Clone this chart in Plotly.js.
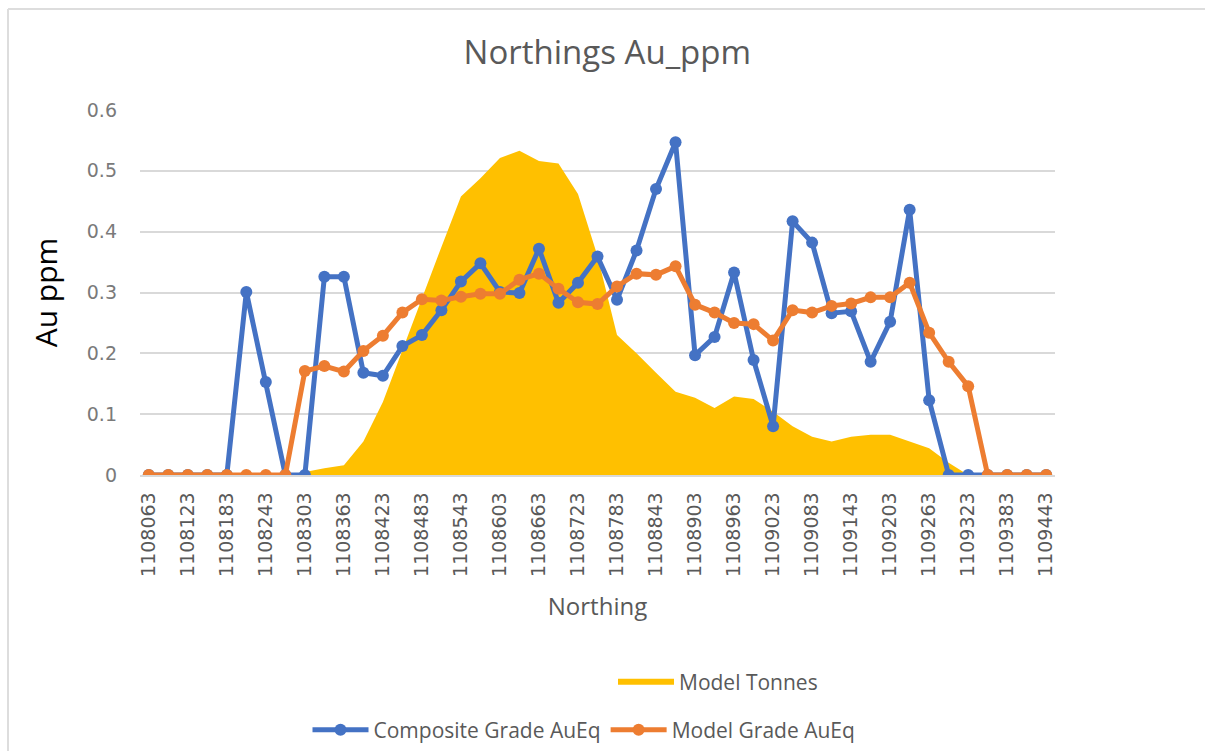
<!DOCTYPE html>
<html>
<head>
<meta charset="utf-8">
<script src="https://cdn.plot.ly/plotly-3.0.1.min.js"></script>
<style>
  html, body { margin: 0; padding: 0; background: #fff; }
  #chart { width: 1205px; height: 751px; }
</style>
</head>
<body>
<div id="chart"></div>
<script>
// northing categories (every 30 m)
const northings = [
  '1108063', '1108093', '1108123', '1108153', '1108183', '1108213', '1108243', '1108273',
  '1108303', '1108333', '1108363', '1108393', '1108423', '1108453', '1108483', '1108513',
  '1108543', '1108573', '1108603', '1108633', '1108663', '1108693', '1108723', '1108753',
  '1108783', '1108813', '1108843', '1108873', '1108903', '1108933', '1108963', '1108993',
  '1109023', '1109053', '1109083', '1109113', '1109143', '1109173', '1109203', '1109233',
  '1109263', '1109293', '1109323', '1109353', '1109383', '1109413', '1109443'
];

// composite grade (blue)
const compositeGrade = [
  0, 0, 0, 0, 0, 0.301, 0.153, 0,
  0, 0.326, 0.326, 0.168, 0.163, 0.212, 0.230, 0.271,
  0.318, 0.348, 0.301, 0.299, 0.372, 0.283, 0.316, 0.359,
  0.288, 0.369, 0.470, 0.547, 0.197, 0.227, 0.333, 0.189,
  0.080, 0.417, 0.382, 0.266, 0.269, 0.186, 0.252, 0.436,
  0.123, 0, 0, 0, 0, 0, 0
];

// model grade (orange)
const modelGrade = [
  0, 0, 0, 0, 0, 0, 0, 0,
  0.171, 0.179, 0.170, 0.204, 0.229, 0.267, 0.289, 0.287,
  0.293, 0.298, 0.298, 0.321, 0.331, 0.306, 0.284, 0.281,
  0.310, 0.331, 0.329, 0.343, 0.280, 0.267, 0.250, 0.248,
  0.221, 0.271, 0.267, 0.278, 0.282, 0.292, 0.292, 0.316,
  0.234, 0.186, 0.146, 0, 0, 0, 0
];

// model tonnes (yellow area, drawn in the grade axis scale)
const modelTonnes = [
  0, 0, 0, 0, 0, 0, 0, 0,
  0.005, 0.011, 0.016, 0.055, 0.12, 0.205, 0.29, 0.375,
  0.458, 0.488, 0.521, 0.533, 0.516, 0.512, 0.462, 0.36,
  0.230, 0.200, 0.168, 0.137, 0.127, 0.110, 0.129, 0.125,
  0.104, 0.080, 0.063, 0.055, 0.063, 0.066, 0.066, 0.055,
  0.044, 0.020, 0, 0, 0, 0, 0
];

const yTicks = [0, 0.1, 0.2, 0.3, 0.4, 0.5, 0.6];
const yTickText = ['0', '0.1', '0.2', '0.3', '0.4', '0.5', '0.6'];
const shownTicks = northings.filter((n, i) => i % 2 == 0);

const gray = '#595959';

var data = [
  {
    x: northings, y: modelTonnes, name: 'Model Tonnes',
    type: 'scatter', mode: 'none', fill: 'tozeroy',
    fillcolor: '#FFC000', legend: 'legend'
  },
  {
    x: northings, y: compositeGrade, name: 'Composite Grade AuEq',
    type: 'scatter', mode: 'lines+markers',
    line: { color: '#4472C4', width: 5 },
    marker: { color: '#4472C4', size: 12 },
    legend: 'legend2'
  },
  {
    x: northings, y: modelGrade, name: 'Model Grade AuEq',
    type: 'scatter', mode: 'lines+markers',
    line: { color: '#ED7D31', width: 5 },
    marker: { color: '#ED7D31', size: 12 },
    legend: 'legend2'
  }
];

// border px -> paper coords
const W = 1205, H = 751;
const L = 140, R = 1055, T = 110, B = 475;
function px(x) { return (x - L) / (R - L); }
function py(y) { return (B - y) / (B - T); }
function cy(y) { return 1 - y / H; }

var layout = {
  width: W, height: H,
  margin: { l: L, r: W - R, t: T, b: H - B },
  paper_bgcolor: '#fff', plot_bgcolor: '#fff',
  font: { family: 'Open Sans, sans-serif', color: gray },
  title: {
    text: 'Northings Au_ppm',
    font: { family: 'Open Sans', size: 33, color: gray },
    x: 0.504, xanchor: 'center', y: 0.93, yanchor: 'middle'
  },
  xaxis: {
    type: 'category',
    range: [-0.45, 46.45],
    automargin: false,
    tickmode: 'array', tickvals: shownTicks, ticktext: shownTicks,
    tickangle: -90,
    tickfont: { family: 'DejaVu Sans', size: 19, color: gray },
    ticks: '', showgrid: false, zeroline: false,
    showline: true, linecolor: '#D9D9D9', linewidth: 1.5,
    ticklabelstandoff: 8,
    title: { text: 'Northing', font: { family: 'Open Sans', size: 24, color: gray }, standoff: 22 }
  },
  yaxis: {
    range: [0, 0.6],
    automargin: false,
    tickmode: 'array', tickvals: yTicks, ticktext: yTickText,
    tickfont: { family: 'DejaVu Sans', size: 19, color: '#7a7a7a' },
    ticks: '', showgrid: true, gridcolor: '#D9D9D9', gridwidth: 1.5,
    zeroline: false, showline: false,
    ticklabelstandoff: 22,
    title: { text: 'Au ppm', font: { family: 'Open Sans', size: 30, color: '#000' }, standoff: 20 }
  },
  legend: {
    orientation: 'h', x: px(718), xanchor: 'center',
    yref: 'container', y: cy(682), yanchor: 'middle',
    font: { family: 'Open Sans', size: 21, color: gray },
    itemwidth: 56, bgcolor: 'rgba(0,0,0,0)'
  },
  legend2: {
    orientation: 'h', x: px(584), xanchor: 'center',
    yref: 'container', y: cy(730), yanchor: 'middle',
    font: { family: 'Open Sans', size: 21, color: gray },
    itemwidth: 56, bgcolor: 'rgba(0,0,0,0)'
  },
  shapes: [
    { type: 'line', xref: 'paper', yref: 'paper', x0: px(8), x1: px(W), y0: py(9), y1: py(9),
      line: { color: '#DDDDDD', width: 2 } },
    { type: 'line', xref: 'paper', yref: 'paper', x0: px(8), x1: px(8), y0: py(9), y1: py(H),
      line: { color: '#DDDDDD', width: 2 } }
  ],
  showlegend: true
};

Plotly.newPlot('chart', data, layout, { displayModeBar: false });
</script>
</body>
</html>
